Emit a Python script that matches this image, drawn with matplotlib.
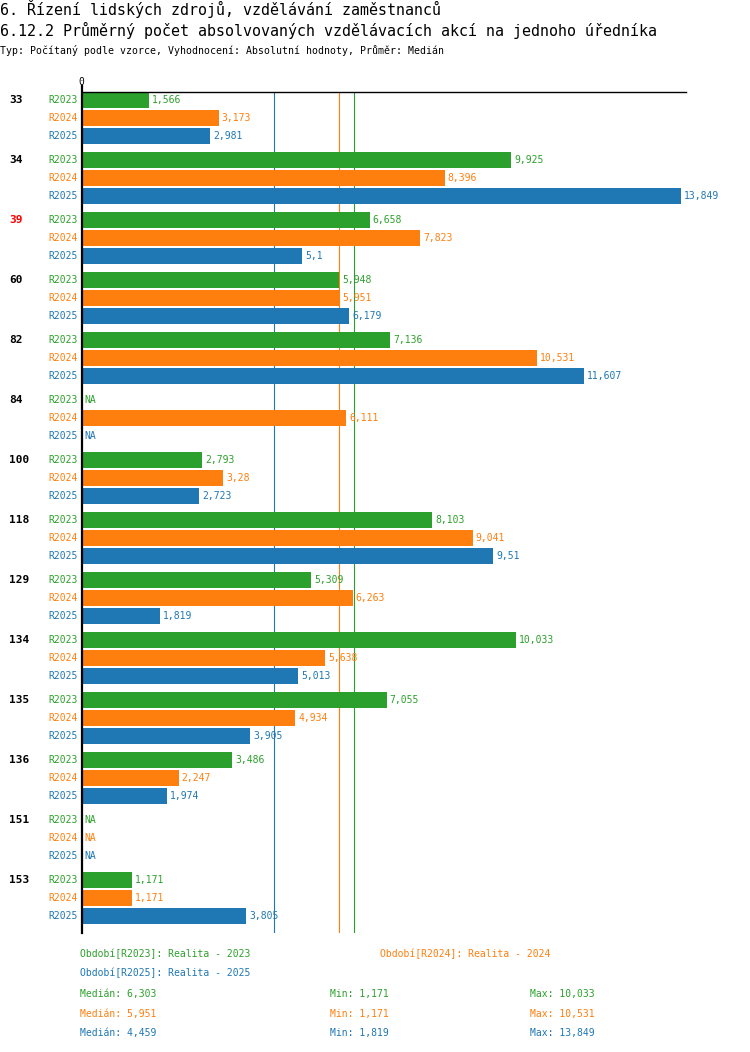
import numpy as np
import matplotlib
matplotlib.use("Agg")
from matplotlib import pyplot as plt
from matplotlib import transforms

# data (NaN = NA)
groups = ["33", "34", "39", "60", "82", "84", "100", "118", "129", "134", "135", "136", "151", "153"]
series = ["R2023", "R2024", "R2025"]
r2023 = [1.566, 9.925, 6.658, 5.948, 7.136, np.nan, 2.793, 8.103, 5.309, 10.033, 7.055, 3.486, np.nan, 1.171]
r2024 = [3.173, 8.396, 7.823, 5.951, 10.531, 6.111, 3.28, 9.041, 6.263, 5.638, 4.934, 2.247, np.nan, 1.171]
r2025 = [2.981, 13.849, 5.1, 6.179, 11.607, np.nan, 2.723, 9.51, 1.819, 5.013, 3.905, 1.974, np.nan, 3.805]
legend_names = ["Realita - 2023", "Realita - 2024", "Realita - 2025"]
highlight = "39"

colors = ["#2ca02c", "#ff7f0e", "#1f77b4"]
values = [np.array(r2023), np.array(r2024), np.array(r2025)]

W, H = 750, 1052
MONO = "DejaVu Sans Mono"
plt.rcParams['font.family'] = MONO

def fmt(v):
    s = "%.3f" % v
    s = s.rstrip('0').rstrip('.')
    return s.replace('.', ',')

def fx(px):
    return px / W

def fy(py):
    return 1 - py / H

fig = plt.figure(figsize=(W / 100, H / 100), dpi=100)

# titles
fig.text(fx(0), fy(9), "6. Řízení lidských zdrojů, vzdělávání zaměstnanců", fontsize=10.85, va='center', ha='left')
fig.text(fx(0), fy(30), "6.12.2 Průměrný počet absolvovaných vzdělávacích akcí na jednoho úředníka", fontsize=10.85, va='center', ha='left')
fig.text(fx(0), fy(50), "Typ: Počítaný podle vzorce, Vyhodnocení: Absolutní hodnoty, Průměr: Medián", fontsize=7.1, va='center', ha='left')

left, right, top, bottom = 81.5, 686, 92.3, 932.7
ax = fig.add_axes([fx(left), fy(bottom), (right - left) / W, (bottom - top) / H])

step = 60 / 18.0
ng = len(groups)
ax.set_xlim(0, 13.97)
ax.set_ylim(step * (ng - 1) + 2 + 0.93, -0.43)

for s in ["right", "bottom", "left"]:
    ax.spines[s].set_visible(False)
ax.spines["top"].set_linewidth(1.0)
ax.set_xticks([])
ax.set_yticks([])
ax.axvline(0, ymin=0, ymax=1 + 6 / (bottom - top), clip_on=False, color='k', lw=1.6, zorder=5)
ax.text(0, -0.43 - 0.6, "0", fontsize=7, ha='center', va='center')

fig_y = transforms.blended_transform_factory(fig.transFigure, ax.transData)

medians = [np.nanmedian(v) for v in values]
for j in range(3):
    ax.axvline(medians[j], color=colors[j], lw=0.8, zorder=1)

for i, g in enumerate(groups):
    y0 = i * step
    ax.text(fx(9), y0, g, transform=fig_y, fontsize=8, fontweight='bold',
            color='red' if g == highlight else 'black', ha='left', va='center')
    for j in range(3):
        y = y0 + j
        v = values[j][i]
        ax.text(fx(77.5), y, series[j], transform=fig_y, fontsize=7, color=colors[j],
                ha='right', va='center')
        if np.isnan(v):
            ax.annotate("NA", (0, y), xytext=(2.2, 0), textcoords='offset points',
                        fontsize=7, color=colors[j], va='center', ha='left')
        else:
            ax.barh(y, v, height=16 / 18.0, color=colors[j], zorder=2)
            ax.annotate(fmt(v), (v, y), xytext=(2.2, 0), textcoords='offset points',
                        fontsize=7, color=colors[j], va='center', ha='left')

# legend / stats block
fig.text(fx(80), fy(954), "Období[%s]: %s" % (series[0], legend_names[0]), fontsize=7, color=colors[0], va='center')
fig.text(fx(380), fy(954), "Období[%s]: %s" % (series[1], legend_names[1]), fontsize=7, color=colors[1], va='center')
fig.text(fx(80), fy(973), "Období[%s]: %s" % (series[2], legend_names[2]), fontsize=7, color=colors[2], va='center')
rows_y = [994, 1014, 1033]
for j in range(3):
    fig.text(fx(80), fy(rows_y[j]), "Medián: " + fmt(medians[j]), fontsize=7, color=colors[j], va='center')
    fig.text(fx(330), fy(rows_y[j]), "Min: " + fmt(np.nanmin(values[j])), fontsize=7, color=colors[j], va='center')
    fig.text(fx(530), fy(rows_y[j]), "Max: " + fmt(np.nanmax(values[j])), fontsize=7, color=colors[j], va='center')

fig.savefig("out.png", dpi=100)
